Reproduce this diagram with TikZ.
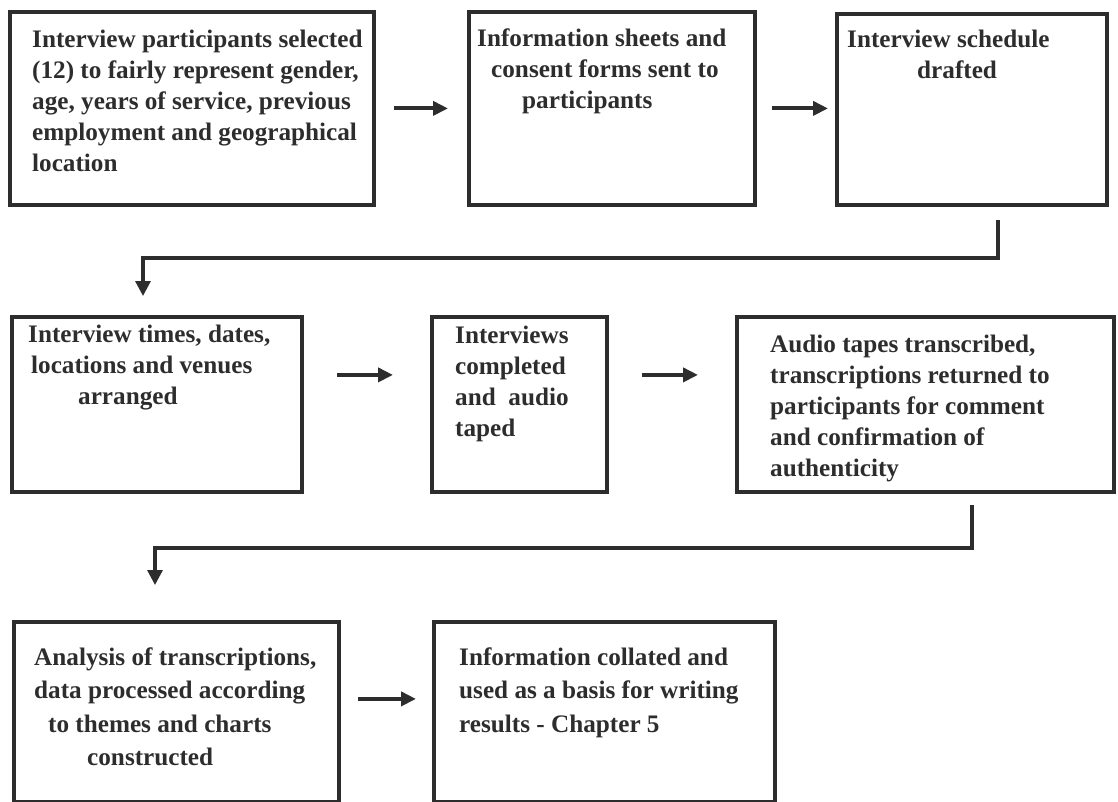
\documentclass[tikz,border=0pt]{standalone}
\usepackage{fontspec}
\setmainfont{Liberation Serif}
\usetikzlibrary{arrows.meta,positioning,calc}
\definecolor{boxink}{RGB}{45,45,45}
\newcommand{\stagefont}{\fontsize{25.2}{31}\bfseries\selectfont}
\newcommand{\lowfont}{\fontsize{25.2}{33.5}\bfseries\selectfont}
\begin{document}
\begin{tikzpicture}[x=1pt,y=-1pt,
  stage/.style={draw=boxink,line width=3.8pt,anchor=north west,inner sep=0pt},
  txt/.style={anchor=north west,inner sep=0pt,align=left,text=boxink,font=\stagefont},
  flow/.style={draw=boxink,line width=4pt,-{Triangle[length=15pt,width=14pt]}},
  link/.style={draw=boxink,line width=3.2pt,-{Triangle[length=15pt,width=15pt]}}]
\useasboundingbox (0,0) rectangle (1118,802);
% Fila 1
\node[stage,minimum width=364pt,minimum height=193pt] (s1) at (8,10) {};
\node[stage,minimum width=286pt,minimum height=193pt] (s2) at (467,10) {};
\node[stage,minimum width=270pt,minimum height=191pt] (s3) at (835,12) {};
\node[txt] (t1) at ([shift={(24pt,-15.3pt)}]s1.north west) {\strut Interview participants selected\\(12) to fairly represent gender,\\age, years of service, previous\\employment and geographical\\location};
\node[txt] (t2) at ([shift={(10pt,-14.3pt)}]s2.north west) {\strut Information sheets and\\\hspace*{14pt}consent forms sent to\\\hspace*{45pt}participants};
\node[txt] (t3) at ([shift={(12pt,-13.3pt)}]s3.north west) {\strut Interview schedule\\\hspace*{70pt}drafted};
\draw[flow,shorten <=18pt,shorten >=19pt] (s1.east) -- (s1.east -| s2.west);
\draw[flow,shorten <=15pt,shorten >=7pt] (s2.east) -- (s2.east -| s3.west);
% Fila 2
\node[stage,minimum width=290pt,minimum height=175pt] (s4) at (10,315) {};
\node[stage,minimum width=175pt,minimum height=175pt] (s5) at (430,315) {};
\node[stage,minimum width=377pt,minimum height=175pt] (s6) at (735,315) {};
\node[txt] (t4) at ([shift={(18pt,-5.3pt)}]s4.north west) {\strut Interview times, dates,\\\hspace*{3pt}locations and venues\\\hspace*{50pt}arranged};
\node[txt] (t5) at ([shift={(25pt,-6.3pt)}]s5.north west) {\strut Interviews\\completed\\and\ \ audio\\taped};
\node[txt] (t6) at ([shift={(35pt,-15.3pt)}]s6.north west) {\strut Audio tapes transcribed,\\transcriptions returned to\\participants for comment\\and confirmation of\\authenticity};
\draw[flow,shorten <=33pt,shorten >=37pt] ([yshift=29.5pt]s4.east) -- ([yshift=29.5pt]s4.east -| s5.west);
\draw[flow,shorten <=33pt,shorten >=37pt] ([yshift=29.5pt]s5.east) -- ([yshift=29.5pt]s5.east -| s6.west);
% Fila 3
\node[stage,minimum width=325pt,minimum height=180pt] (s7) at (12,620) {};
\node[stage,minimum width=341pt,minimum height=180pt] (s8) at (432,620) {};
\node[txt,font=\lowfont] (t7) at ([shift={(22pt,-21.5pt)}]s7.north west) {\strut Analysis of transcriptions,\\data processed according\\\hspace*{14pt}to themes and charts\\\hspace*{53pt}constructed};
\node[txt,font=\lowfont] (t8) at ([shift={(27pt,-21.5pt)}]s8.north west) {\strut Information collated and\\used as a basis for writing\\results - Chapter 5};
\draw[flow,shorten <=17pt,shorten >=16pt] ([yshift=13pt]s7.east) -- ([yshift=13pt]s7.east -| s8.west);
% Conectores entre filas
\coordinate (c1) at (998,220);
\coordinate (k1) at (143,258);
\draw[link,shorten >=19pt] (c1) |- (k1) -- (k1 |- s4.north);
\coordinate (c2) at (972,505);
\coordinate (k2) at (155,548);
\draw[link,shorten >=35pt] (c2) |- (k2) -- (k2 |- s7.north);
\end{tikzpicture}
\end{document}
